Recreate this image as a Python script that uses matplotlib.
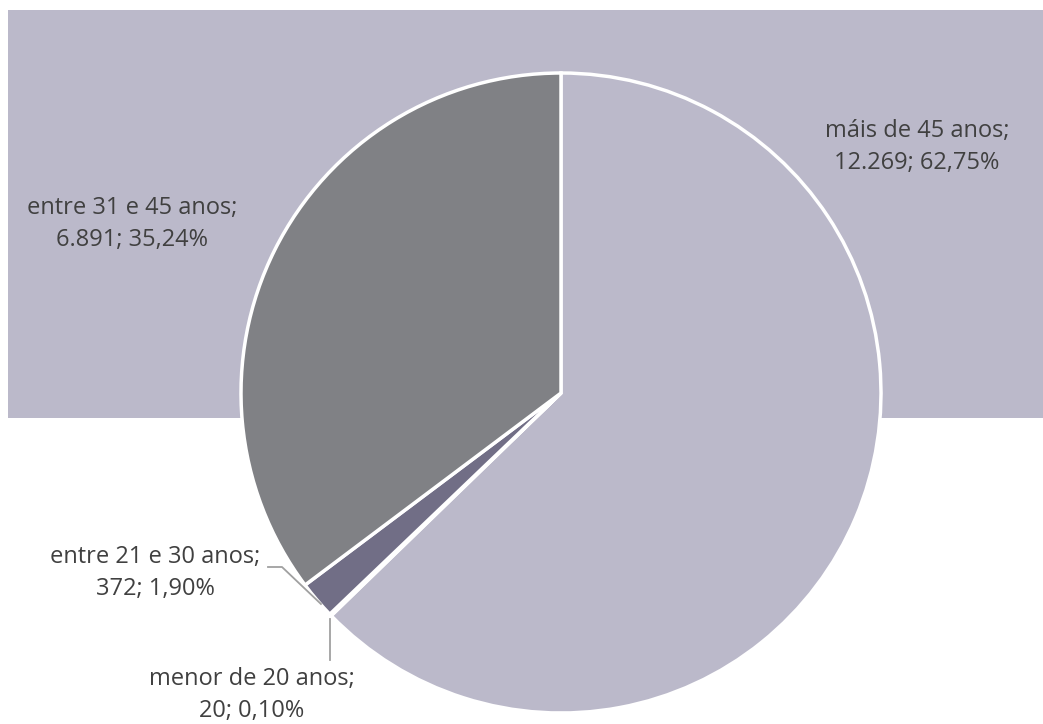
import numpy as np
import matplotlib
matplotlib.use("Agg")
import matplotlib.pyplot as plt
from matplotlib.patches import Rectangle

# ---- data ----
categories = ["máis de 45 anos", "menor de 20 anos", "entre 21 e 30 anos", "entre 31 e 45 anos"]
values = [12269, 20, 372, 6891]
colors = ["#BBB9CA", "#A9A6BB", "#716E86", "#808185"]

W, H = 1043, 724
fig = plt.figure(figsize=(W / 100, H / 100), dpi=100)
ax = fig.add_axes([0, 0, 1, 1])

def Y(y):
    return H - y

# background panel
ax.add_patch(Rectangle((8, Y(418)), W - 8, 408, facecolor="#BBB9CA", edgecolor="none", zorder=0))

cx, cy, R = 561, Y(393), 320
wedges, _ = ax.pie(values, colors=colors, startangle=90, counterclock=False,
                   center=(cx, cy), radius=R,
                   wedgeprops=dict(edgecolor="white", linewidth=2.5))
for w in wedges:
    w.set_zorder(2)

total = sum(values)

def fmt_int(v):
    return f"{v:,}".replace(",", ".")

def lab(i):
    pct = f"{values[i] / total * 100:.2f}".replace(".", ",")
    return f"{categories[i]};\n{fmt_int(values[i])}; {pct}%"

font = dict(family=["Open Sans", "DejaVu Sans"], fontsize=17, color="#404040",
            ha="center", va="center", linespacing=1.4, zorder=5)

label_pos = {0: (917, 147), 3: (132, 224), 2: (155, 573), 1: (252, 695)}
for i, (x, y) in label_pos.items():
    ax.text(x, Y(y), lab(i), **font)

def edge_point(w):
    ang = np.deg2rad((w.theta1 + w.theta2) / 2)
    return cx + R * np.cos(ang), cy + R * np.sin(ang)

lc = "#A0A0A0"
# leader for menor de 20 anos
ex, ey = edge_point(wedges[1])
ax.plot([ex, ex], [ey - 4, Y(660)], color=lc, lw=1.3, zorder=3)
# leader for entre 21 e 30 anos
ex, ey = edge_point(wedges[2])
ax.plot([268, 282, ex + 4, ], [Y(567), Y(567), ey - 4], color=lc, lw=1.3, zorder=3)

ax.set_xlim(0, W)
ax.set_ylim(0, H)
ax.set_aspect("auto")
ax.axis("off")
fig.savefig("out.png", dpi=100, facecolor="white")
